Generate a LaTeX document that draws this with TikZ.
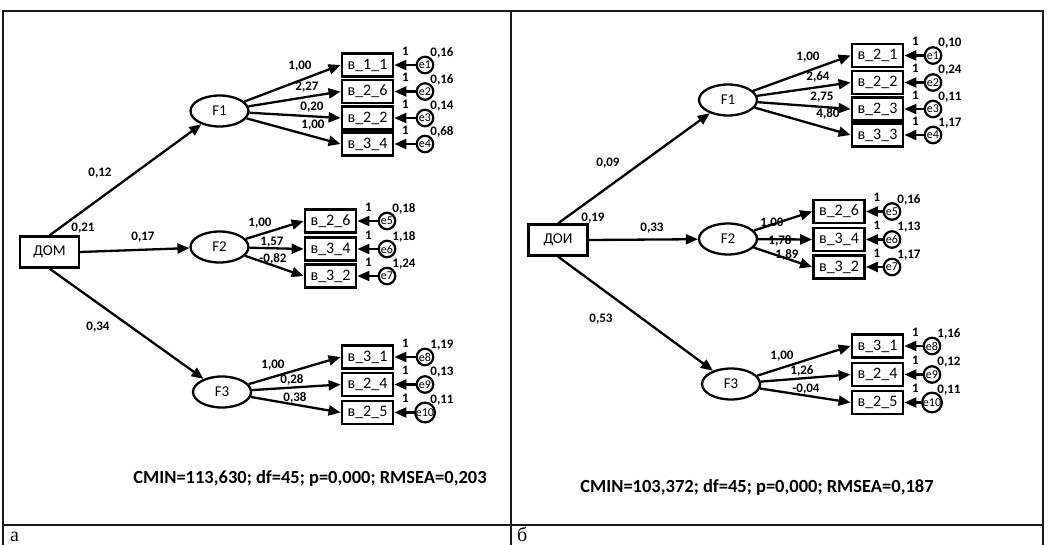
\documentclass[tikz,border=0pt]{standalone}
\usepackage{fontspec}
\setmainfont{Carlito}
\newfontfamily\capfont{Liberation Serif}
\usetikzlibrary{arrows.meta,shapes.geometric,calc}
\tikzset{
  frameline/.style={line width=1.8pt,black!90},
  arr/.style={line width=2.3pt,-{Triangle[length=12pt,width=10pt]}},
  obsbox/.style={draw,line width=2.8pt,minimum width=51pt,minimum height=23pt,inner sep=0pt,font=\fontsize{16}{16}\selectfont},
  exobox/.style={draw,line width=2.2pt,minimum width=59pt,minimum height=31pt,inner sep=0pt,font=\fontsize{15}{15}\selectfont},
  latent/.style={draw,ellipse,line width=2.3pt,minimum width=58pt,minimum height=31pt,inner sep=0pt,font=\fontsize{15}{15}\selectfont},
  errc/.style={draw,circle,line width=2.2pt,minimum size=16.5pt,inner sep=0pt,font=\fontsize{12}{12}\selectfont},
  lbl/.style={inner sep=0pt,font=\fontsize{13}{13}\selectfont\bfseries},
  fit/.style={inner sep=0pt,font=\fontsize{18.5}{18.5}\selectfont\bfseries},
  capt/.style={inner sep=0pt,anchor=base west,font=\fontsize{20}{20}\selectfont\capfont}
}
\newcommand\indic[7]{%
  \node[obsbox] (#1) at (#2,#3) {#4};
  \node[errc] (#1e) at (#5,#3) {#6};
  \draw[arr] (#1e) -- (#1.east);
  \node[lbl] at ($(#1.east)+(11,-14)$) {1};
  \node[lbl] at (#5+17,#3-12) {#7};
}
\begin{document}
\begin{tikzpicture}[x=1pt,y=-1pt]
\useasboundingbox (0,0) rectangle (1051,545);
% table frame
\draw[frameline] (3,545) -- (3,11) -- (1043,11) -- (1043,545);
\draw[frameline] (511,11) -- (511,545);
\draw[frameline] (3,525) -- (1043,525);
\node[capt] (ca) at (10,541) {а};
\node[capt] (cb) at (517,541) {б};

% ===== Left panel =====
\node[exobox] (dom) at (49.5,252) {ДОМ};
\node[latent] (lf1) at (219.5,111) {F1};
\node[latent] (lf2) at (219.5,247) {F2};
\node[latent] (lf3) at (222,392) {F3};
\draw[arr] (dom.north) -- (lf1);
\draw[arr] (dom.east) -- (lf2);
\draw[arr] (dom.south) -- (lf3);
\node[lbl] at (100,173) {0,12};
\node[lbl] at (83,228) {0,21};
\node[lbl] at (143,237) {0,17};
\node[lbl] at (98,327) {0,34};

\indic{la1}{367.5}{65}{в\_1\_1}{425}{e1}{0,16}
\indic{la2}{367.5}{91.5}{в\_2\_6}{425}{e2}{0,16}
\indic{la3}{367.5}{118}{в\_2\_2}{425}{e3}{0,14}
\indic{la4}{367.5}{144}{в\_3\_4}{425}{e4}{0,68}
\foreach \n in {la1,la2,la3,la4} \draw[arr] (lf1) -- (\n.west);
\node[lbl] at (300,66) {1,00};
\node[lbl] at (307,87) {2,27};
\node[lbl] at (312,107) {0,20};
\node[lbl] at (313,125) {1,00};

\indic{lb1}{330.5}{221}{в\_2\_6}{387}{e5}{0,18}
\indic{lb2}{330.5}{249}{в\_3\_4}{387}{e6}{1,18}
\indic{lb3}{330.5}{276}{в\_3\_2}{387}{e7}{1,24}
\foreach \n in {lb1,lb2,lb3} \draw[arr] (lf2) -- (\n.west);
\node[lbl] at (260,223) {1,00};
\node[lbl] at (272,242) {1,57};
\node[lbl] at (273,259) {-0,82};

\indic{lc1}{367.5}{357}{в\_3\_1}{425}{e8}{1,19}
\indic{lc2}{367.5}{384.5}{в\_2\_4}{425}{e9}{0,13}
\indic{lc3}{367.5}{412.5}{в\_2\_5}{425}{e10}{0,11}
\foreach \n in {lc1,lc2,lc3} \draw[arr] (lf3) -- (\n.west);
\node[lbl] at (273,365) {1,00};
\node[lbl] at (292,380) {0,28};
\node[lbl] at (295,398) {0,38};

\node[fit] (fitl) at (310,478) {CMIN=113,630; df=45; p=0,000; RMSEA=0,203};

% ===== Right panel =====
\node[exobox] (doi) at (558,240) {ДОИ};
\node[latent] (rf1) at (728,100) {F1};
\node[latent] (rf2) at (728,239) {F2};
\node[latent] (rf3) at (731,384) {F3};
\draw[arr] (doi.north) -- (rf1);
\draw[arr] (doi.east) -- (rf2);
\draw[arr] (doi.south) -- (rf3);
\node[lbl] at (608,163) {0,09};
\node[lbl] at (593,218) {0,19};
\node[lbl] at (652,228) {0,33};
\node[lbl] at (601,319) {0,53};

\indic{ra1}{877.5}{55.5}{в\_2\_1}{933}{e1}{0,10}
\indic{ra2}{877.5}{82.5}{в\_2\_2}{933}{e2}{0,24}
\indic{ra3}{877.5}{109}{в\_2\_3}{933}{e3}{0,11}
\indic{ra4}{877.5}{135}{в\_3\_3}{933}{e4}{1,17}
\foreach \n in {ra1,ra2,ra3,ra4} \draw[arr] (rf1) -- (\n.west);
\node[lbl] at (808,57) {1,00};
\node[lbl] at (818,77) {2,64};
\node[lbl] at (822,97) {2,75};
\node[lbl] at (828,114) {4,80};

\indic{rb1}{839}{211.5}{в\_2\_6}{892}{e5}{0,16}
\indic{rb2}{839}{239.5}{в\_3\_4}{892}{e6}{1,13}
\indic{rb3}{839}{267}{в\_3\_2}{892}{e7}{1,17}
\foreach \n in {rb1,rb2,rb3} \draw[arr] (rf2) -- (\n.west);
\node[lbl] at (772,223) {1,00};
\node[lbl] at (780,241) {1,78};
\node[lbl] at (787,255) {1,89};

\indic{rc1}{877.5}{346}{в\_3\_1}{932}{e8}{1,16}
\indic{rc2}{877.5}{374.5}{в\_2\_4}{932}{e9}{0,12}
\indic{rc3}{877.5}{402.5}{в\_2\_5}{932}{e10}{0,11}
\foreach \n in {rc1,rc2,rc3} \draw[arr] (rf3) -- (\n.west);
\node[lbl] at (782,356) {1,00};
\node[lbl] at (802,371) {1,26};
\node[lbl] at (806,389) {-0,04};

\node[fit] (fitr) at (757,487) {CMIN=103,372; df=45; p=0,000; RMSEA=0,187};
\end{tikzpicture}
\end{document}
